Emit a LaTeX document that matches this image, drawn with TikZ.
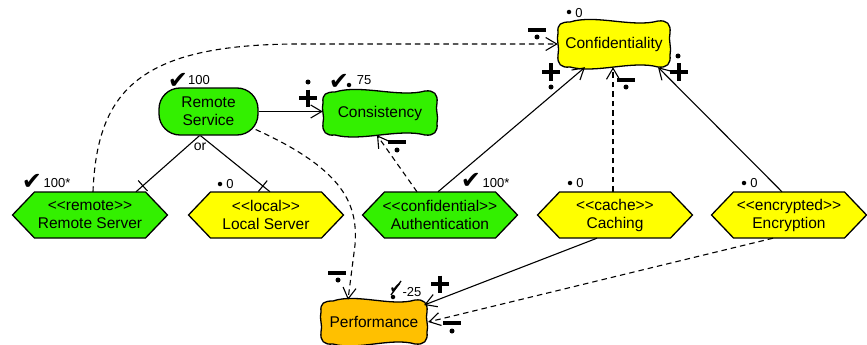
\documentclass[tikz,border=0pt]{standalone}
\usepackage{fontspec}
\setmainfont{Liberation Sans}
\newfontfamily\symf{DejaVu Sans}
\usetikzlibrary{arrows.meta,calc,decorations.markings}
\pgfdeclarelayer{bg}\pgfsetlayers{bg,main}
\definecolor{gfill}{RGB}{51,240,0}
\definecolor{yfill}{RGB}{255,255,0}
\definecolor{ofill}{RGB}{255,192,0}
\newcommand\st[1]{<\kern0pt<\kern0pt#1\kern0pt>\kern0pt>}
\newcommand\wavy[4]{\begin{pgfonlayer}{bg}\draw[shapeline,fill=#4,shift={(#1.center)}]
 (-#2+12,-#3+1) .. controls (-#2/3,-#3-7) and (#2/3,-#3+7) .. (#2-12,-#3)
 .. controls (#2-3,-#3-1) and (#2+1,-#3+3) .. (#2,-#3+12)
 .. controls (#2-2,-4) and (#2+2,4) .. (#2,#3-12)
 .. controls (#2+1,#3-3) and (#2-3,#3+1) .. (#2-12,#3)
 .. controls (#2/3,#3-7) and (-#2/3,#3+7) .. (-#2+12,#3)
 .. controls (-#2+3,#3+1) and (-#2-1,#3-3) .. (-#2,#3-12)
 .. controls (-#2+2,4) and (-#2-2,-4) .. (-#2,-#3+12)
 .. controls (-#2-1,-#3+3) and (-#2+3,-#3+1) .. (-#2+12,-#3+1) -- cycle;\end{pgfonlayer}}
\newcommand\hexa[2]{\begin{pgfonlayer}{bg}\draw[shapeline,fill=#2,shift={(#1.center)}]
 (-77.5,0) -- (-55.5,-23) -- (55.5,-23) -- (77.5,0) -- (55.5,23) -- (-55.5,23) -- cycle;\end{pgfonlayer}}
\tikzset{
 shapeline/.style={draw=black,line width=1.3pt},
 conn/.style={line width=1.1pt},
 dashconn/.style={conn,dash pattern=on 5.5pt off 4pt},
 hexnode/.style={rectangle,minimum width=155pt,minimum height=46pt,align=center,inner sep=0pt},
 wavynode/.style={rectangle,inner sep=0pt},
 numlab/.style={font=\fontsize{13}{13}\selectfont,inner sep=0pt},
 chklab/.style={font=\symf\fontsize{24}{24}\selectfont,inner sep=0pt},
 dotn/.style={circle,fill=black,inner sep=0pt,minimum size=5pt},
 sdot/.style={circle,fill=black,inner sep=0pt,minimum size=4.5pt},
 sgn/.style={line width=4.5pt},
 ticked/.style={postaction={decorate},decoration={markings,mark=at position -9pt with {\draw[conn] (0pt,-7pt) -- (0pt,7pt);}}}
}
\begin{document}
\begin{tikzpicture}[x=1pt,y=-1pt,font=\fontsize{15.5}{18}\selectfont,>={Straight Barb[length=11pt,width=13pt]}]
\useasboundingbox (0,0) rectangle (867,345);
% goal nodes
\node[wavynode,minimum width=114pt,minimum height=44pt] (cons) at (380,113) {Consistency};
\wavy{cons}{57}{22}{gfill}
\node[wavynode,minimum width=112pt,minimum height=46pt] (conf) at (614,44) {Confidentiality};
\wavy{conf}{56}{23}{yfill}
\node[wavynode,minimum width=106pt,minimum height=44pt] (perf) at (374,322) {Performance};
\wavy{perf}{53}{22}{ofill}
\node[draw=black,line width=1.3pt,fill=gfill,rounded corners=21pt,minimum width=99pt,minimum height=47pt,align=center,inner sep=0pt] (rsvc) at (208.5,111.5) {Remote\\Service};
% hexagons
\node[hexnode] (rsrv) at (90,215) {\st{remote}\\Remote Server};
\hexa{rsrv}{gfill}
\node[hexnode] (lsrv) at (266,215) {\st{local}\\Local Server};
\hexa{lsrv}{yfill}
\node[hexnode] (auth) at (440,215) {\st{confidential}\\Authentication};
\hexa{auth}{gfill}
\node[hexnode] (cach) at (615,215) {\st{cache}\\Caching};
\hexa{cach}{yfill}
\node[hexnode] (enc) at (789,215) {\st{encrypted}\\Encryption};
\hexa{enc}{yfill}
% connectors
\draw[conn,->] (rsvc.east) -- (rsvc.east -| cons.west);
\draw[conn,ticked] ($(rsvc.south)+(-9,0)$) -- ($(rsrv.north)+(46,0)$);
\draw[conn,ticked] ($(rsvc.south)+(-8,0)$) -- ($(lsrv.north)+(4,0)$);
\node[font=\fontsize{14}{14}\selectfont,inner sep=0pt] (orl) at (200,147) {or};
\draw[dashconn,->] ($(rsrv.north)+(3,0)$) .. controls (97,90) and (140,44) .. (300,44) -- (conf.west);
\draw[dashconn,->] ($(rsvc.east)+(-3,18)$) .. controls (345,170) and (358,205) .. (355,245) -- ($(perf.north)+(-26,0)$);
\draw[dashconn,->] ($(auth.north)+(-23,0)$) -- ($(cons.south)+(-3,0)$);
\draw[conn,->] ($(auth.north)+(-2,0)$) -- ($(conf.south)+(-29,0)$);
\draw[dashconn,->] ($(cach.north)+(-2,0)$) -- ($(conf.south)+(-1,0)$);
\draw[conn,->] ($(enc.north)+(-7,0)$) -- ($(conf.south)+(44,0)$);
\draw[conn,->] ($(cach.south)+(-18,0)$) -- ($(perf.east)+(-3,-17)$);
\draw[dashconn,->] ($(enc.south)+(-16,0)$) -- ($(perf.east)+(1,0)$);
% contribution signs
\draw[sgn] (299,98) -- (317,98) (308,89.5) -- (308,106.5);
\node[dotn] (d1) at (308,82) {};
\draw[sgn] (388,142) -- (406,142);
\node[dotn] (d2) at (397,150) {};
\draw[sgn] (528,30) -- (546,30);
\node[dotn] (d3) at (537,37) {};
\draw[sgn] (542,72) -- (560,72) (551,63.5) -- (551,80.5);
\node[dotn] (d4) at (551,87) {};
\draw[sgn] (617,80) -- (635,80);
\node[dotn] (d5) at (626,87) {};
\draw[sgn] (670,72) -- (688,72) (679,63.5) -- (679,80.5);
\node[dotn] (d6) at (678,56) {};
\draw[sgn] (328,273) -- (346,273);
\node[dotn] (d7) at (338,280) {};
\draw[sgn] (431,284) -- (449,284) (440,275.5) -- (440,292.5);
\draw[sgn] (443,323) -- (461,323);
\node[dotn] (d8) at (452,331) {};
% evaluation labels
\node[chklab] (k1) at (178,81) {✔};
\node[numlab] (n1) at (199,80) {100};
\node[chklab] (k2) at (339,82) {✔};
\node[sdot] (e2) at (349,85) {};
\node[numlab] (n2) at (364,80) {75};
\node[sdot] (e3) at (569,12) {};
\node[numlab] (n3) at (579,13) {0};
\node[chklab] (k4) at (32,182) {✔};
\node[numlab] (n4) at (57,183) {100*};
\node[sdot] (e5) at (220,184) {};
\node[numlab] (n5) at (230,184) {0};
\node[chklab] (k6) at (471,181) {✔};
\node[numlab] (n6) at (496,183) {100*};
\node[sdot] (e7) at (570,183) {};
\node[numlab] (n7) at (580,183) {0};
\node[sdot] (e8) at (744,183) {};
\node[numlab] (n8) at (754,183) {0};
\node[chklab,font=\symf\fontsize{15}{15}\selectfont] (k9) at (396,289) {✔};
\draw[line width=1.3pt] (391,295) -- (401,281);
\node[sdot] (e9) at (393,297) {};
\node[numlab] (n9) at (412,292) {-25};
\end{tikzpicture}
\end{document}
